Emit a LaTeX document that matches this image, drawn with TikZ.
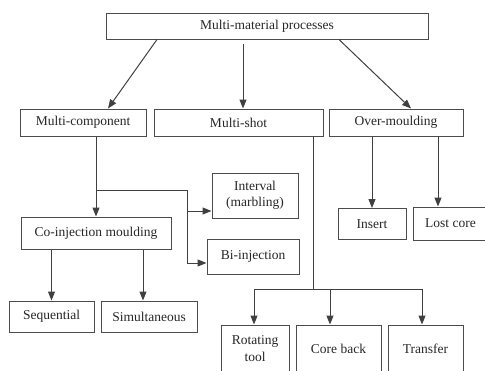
\documentclass[tikz,border=0pt]{standalone}
\usepackage{fontspec}
\setmainfont{Liberation Serif}
\usetikzlibrary{arrows.meta}

\begin{document}
\begin{tikzpicture}
  [x=1pt,y=-1pt,
   box/.style={rectangle,draw=black!70,line width=1pt,inner sep=0pt,align=center,
     text=black!85,font=\fontsize{13.5}{16.5}\selectfont},
   arr/.style={draw=black!75,line width=1pt,-{Triangle[length=9pt,width=7pt]}},
   link/.style={draw=black!75,line width=1pt}]
  \useasboundingbox (0,0) rectangle (485,370);
  \clip (0,0) rectangle (485,370);
  \node[box,minimum width=322pt,minimum height=26pt] (top) at (267,26) {Multi-material processes};
  % Second level
  \node[box,minimum width=126pt,minimum height=27pt] (mcomp) at (83,122.5) {Multi-component};
  \node[box,minimum width=169pt,minimum height=27pt] (mshot) at (238.5,122.5) {Multi-shot};
  \node[box,minimum width=134pt,minimum height=27pt] (overm) at (396,122.5) {Over-moulding};
  % Multi-component branch
  \node[box,minimum width=86pt,minimum height=45pt] (interval) at (255,195.5) {Interval\\(marbling)};
  \node[box,minimum width=92pt,minimum height=35pt] (biinj) at (253,256.5) {Bi-injection};
  \node[box,minimum width=150pt,minimum height=32pt] (coinj) at (96,233) {Co-injection moulding};
  \node[box,minimum width=85pt,minimum height=31pt] (seq) at (51.5,316.5) {Sequential};
  \node[box,minimum width=96pt,minimum height=31pt] (simul) at (149,316.5) {Simultaneous};
  % Over-moulding branch
  \node[box,minimum width=68pt,minimum height=31pt] (insert) at (372,224) {Insert};
  \node[box,minimum width=75pt,minimum height=33pt] (lost) at (450.5,223.5) {Lost core};
  % Multi-shot branch
  \node[box,minimum width=68pt,minimum height=47pt] (rot) at (255,348.5) {Rotating\\tool};
  \node[box,minimum width=85pt,minimum height=47pt] (core) at (338.5,348.5) {Core back};
  \node[box,minimum width=75pt,minimum height=47pt] (trans) at (425.5,348.5) {Transfer};

  \coordinate (split) at (96,190);
  \coordinate (bend) at (187,190);
  \coordinate (shotfork) at (313,289);

  \draw[arr] ([xshift=-110pt]top.south) -- ([xshift=25pt]mcomp.north);
  \draw[arr] ([xshift=-24pt,yshift=-4pt]top.south) -- ([xshift=4.5pt]mshot.north);
  \draw[arr] ([xshift=72pt]top.south) -- ([xshift=15pt]overm.north);

  \draw[arr] (coinj.north |- mcomp.south) -- (coinj.north);
  \draw[arr] (split) -- (bend) |- ([yshift=-6.5pt]biinj.west);
  \draw[arr] ([yshift=-15.5pt]interval.west -| bend) -- ([yshift=-15.5pt]interval.west);
  \draw[arr] (seq.north |- coinj.south) -- (seq.north);
  \draw[arr] ([xshift=-6pt]simul.north |- coinj.south) -- ([xshift=-6pt]simul.north);

  \draw[link] (mshot.south -| shotfork) -- (shotfork);
  \draw[arr] (shotfork) -| ([xshift=-1pt]rot.north);
  \draw[arr] (shotfork) -| ([xshift=-8.5pt]core.north);
  \draw[arr] (shotfork) -| ([xshift=-3.5pt]trans.north);

  \draw[arr] (insert.north |- overm.south) -- (insert.north);
  \draw[arr] ([xshift=-12.5pt]lost.north |- overm.south) -- ([xshift=-12.5pt]lost.north);
\end{tikzpicture}
\end{document}
